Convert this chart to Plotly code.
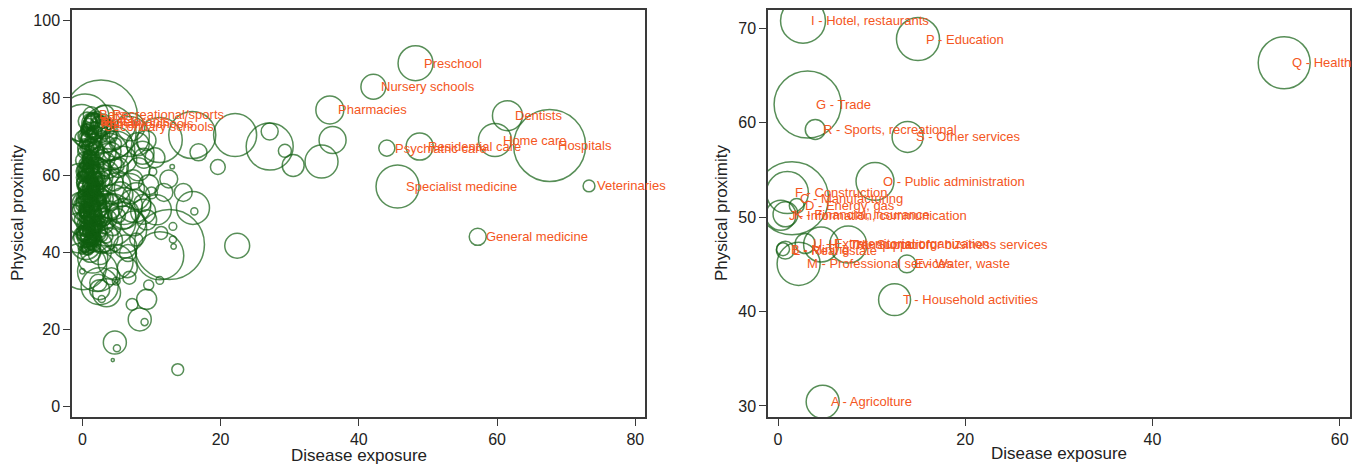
import plotly.graph_objects as go

GREEN = "rgb(16,94,16)"
ORANGE = "rgb(244,86,34)"
FONT = "Liberation Sans, Arial, sans-serif"

# ---------------- Left panel: occupations ----------------
occ_labels = ["Preschool", "Nursery schools", "Pharmacies", "Dentists", "Home care",
              "Hospitals", "Psychiatric care", "Residential care", "Specialist medicine",
              "Veterinaries", "General medicine", "Bars", "Recreational/sports",
              "Restaurants", "Hotels", "Primary schools", "Secondary schools"]
occ_x = [48.2, 42.1, 35.8, 61.5, 59.7, 67.6, 44.05, 48.8, 45.6, 73.3, 57.2,
         1.3, 3.2, 1.4, 1.8, 1.5, 1.9]
occ_y = [89.0, 82.9, 76.9, 75.4, 69.1, 67.7, 67.0, 67.4, 57.06, 57.2, 44.0,
         75.6, 75.6, 74.0, 73.8, 73.4, 72.5]
occ_w = [122, 62, 78, 90, 109, 518, 26, 73, 185, 14, 29,
         26, 40, 20, 32, 48, 58]

# other (unlabelled) occupations
oth_x = [36.2, 34.6, 30.5, 29.3, 27.1, 27.1, 22.1, 19.6, 16.8, 15.9, 11.2, 13.0, 8.9,
         22.4, 14.6, 16.0, 16.2, 12.6, 11.2, 11.2, 13.2, 13.1, 13.8, 4.7, 5.0, 4.4,
         8.3, 9.0, 9.3, 7.2, 9.6, 2.5, 3.5, 2.5, 2.3, 2.8, 4.2, 4.9, 6.8, 0.0, 0.1,
         -0.4, -0.15, 2.7, 0.4, -0.15, 3.8, 3.95, 5.9, 7.3, 8.7, 10.0, 9.3, 11.4,
         13.1, 7.8, 4.7, 6.6, 2.5, 10.7, 7.8, 7.5, 5.9, 4.9, 6.8, 8.7, 10.2]
oth_y = [69.1, 63.5, 62.5, 66.3, 67.4, 71.3, 70.4, 62.1, 65.9, 70.4, 69.1, 62.2, 64.4,
         41.7, 55.5, 51.5, 50.6, 42.0, 39.1, 32.7, 41.5, 43.3, 9.6, 16.6, 15.1, 12.05,
         22.6, 21.9, 27.8, 26.5, 31.5, 31.2, 29.5, 30.3, 32.1, 27.9, 33.8, 32.5, 33.4,
         35.1, 36.4, 45.0, 57.5, 75.2, 74.8, 73.5, 71.0, 48.4, 45.9, 58.8, 52.8, 55.4,
         48.4, 45.0, 46.7, 43.3, 40.7, 39.8, 39.8, 51.0, 54.5, 52.0, 64.0, 66.6, 70.0,
         65.8, 60.9]
oth_w = [73, 109, 48, 17, 221, 29, 185, 22, 29, 221, 202, 2, 40,
         62, 32, 109, 5, 490, 230, 6, 3, 5, 14, 53, 5, 1,
         53, 5, 40, 14, 10, 137, 78, 40, 29, 5, 29, 6, 17,
         3, 221, 160, 185, 533, 230, 137, 302, 281, 221, 40, 29, 14,
         40, 17, 6, 17, 2, 29, 53, 90, 73, 109, 73, 137, 160,
         53, 6]

mid_x = [3.5, 5.2, 6.8, 4.4, 8.1, 9.6, 5.7, 7.4, 3.0, 10.5, 6.2, 4.8, 8.8, 11.8, 5.0,
         7.0, 9.2, 3.9, 6.5, 12.5, 2.2, 1.5, 4.0, 8.0, 6.0]
mid_y = [60.5, 62.0, 56.5, 53.0, 61.5, 57.5, 49.5, 47.5, 44.0, 64.5, 41.5, 37.5, 50.5,
         55.5, 68.5, 72.5, 69.0, 66.0, 36.0, 59.0, 35.0, 38.5, 43.0, 68.0, 52.0]
mid_w = [62, 40, 90, 122, 53, 40, 78, 62, 90, 40, 53, 122, 62, 32, 90, 78, 40, 137,
         40, 32, 160, 90, 62, 53, 137]

# dense cluster of low-exposure occupations
cl_x = [0.2, 0.5, 0.8, 1.1, 0.3, 0.6, 0.9, 1.3, 0.4, 1.6, 1.9, 0.1, 1.4, 1.7, 0.7,
        1.0, 2.0, 2.2, 1.5, 0.2, 1.8, 2.4, 0.9, 1.2, 0.5, 2.1, 1.3, 0.0, 0.4, 0.8,
        1.2, 1.6, 0.3, 1.0, 2.3, 2.6, 0.6, 1.9, 1.1, 0.2, 0.7, 1.4, 1.8, 0.9, 0.5,
        1.5, 2.7, 2.9, 0.1, 1.7, 1.0, 1.3, 0.4, 2.2, 0.8, 2.5, 0.3, 1.6, 3.1, 3.3,
        0.5, 1.2, 1.8, 2.4, 0.9, 1.5, 2.8, 3.2, 0.3, 2.0, 3.6, 1.0, 2.6, 1.4, 2.1,
        3.0, 0.7, 3.8, 1.7, 4.2, 1.0, 0.5, 2.0, 4.5, 3.5, 1.2, 5.5, 4.0, 6.0, 0.5]
cl_y = [45, 47, 49, 51, 53, 55, 57, 59, 61, 46, 48, 50, 52, 54, 44,
        42, 50, 53, 56, 58, 60, 57, 62, 64, 60, 45, 43, 47, 49, 52,
        54, 50, 56, 59, 48, 51, 46, 56, 47, 52, 50, 48, 52, 54, 58,
        61, 54, 49, 55, 44, 45, 57, 63, 59, 41, 46, 44, 63, 52, 47,
        67, 69, 71, 73, 72, 74, 70, 72, 70, 67, 68, 65, 65, 71, 75,
        74, 74, 73, 66, 70, 52, 50, 61, 57, 63, 40, 55, 52, 50, 42]
cl_w = [20, 32, 10, 48, 14, 26, 40, 14, 32, 20, 10, 58, 14, 32, 40,
        26, 14, 26, 10, 20, 40, 14, 10, 26, 14, 32, 10, 6, 14, 6,
        20, 6, 10, 6, 10, 20, 6, 26, 14, 40, 20, 26, 10, 14, 32,
        20, 10, 32, 10, 14, 6, 32, 14, 20, 14, 26, 48, 10, 14, 26,
        26, 40, 20, 32, 14, 26, 14, 40, 10, 20, 26, 14, 32, 10, 14,
        20, 32, 10, 40, 14, 122, 202, 78, 122, 90, 40, 62, 62, 90, 90]

cl2_x = [0.1, 0.6, 1.1, 1.6, 2.1, 0.3, 0.8, 1.3, 1.8, 2.3, 0.2, 0.7, 1.2, 1.7, 2.2, 0.4, 0.9, 1.4, 1.9, 2.4,
         0.0, 0.5, 1.0, 1.5, 2.0, 0.3, 0.8, 1.3, 1.8, 0.1, 0.6, 1.1, 1.6, 2.1, 0.4, 0.9, 1.4, 0.2, 0.7, 1.2,
         1.7, 0.5, 1.0, 1.5, 0.3, 0.8, 1.3, 0.6, 1.1, 0.4, 0.2, 0.9, 1.6, 2.2, 0.7, 1.4, 0.1, 1.0, 1.9, 0.5,
         1.2, 0.8, 0.3, 1.7, 2.0, 0.6, 1.3, 0.9, 0.2, 1.5, 1.1, 0.4, 0.7, 1.8, 1.0, 0.3, 1.4, 0.8, 0.5, 1.2]
cl2_y = [41.5, 42.3, 43.1, 42.8, 44.0, 44.6, 45.2, 45.9, 46.5, 47.1, 47.8, 48.4, 49.0, 49.6, 50.3, 50.9, 51.5, 52.2, 52.8, 53.4,
         54.0, 54.7, 55.3, 55.9, 56.5, 57.2, 57.8, 58.4, 59.0, 59.7, 60.3, 60.9, 61.5, 62.2, 62.8, 63.4, 64.0, 43.7, 46.0, 48.7,
         51.1, 53.6, 56.1, 58.6, 61.1, 63.6, 42.0, 44.9, 47.4, 49.9, 52.4, 54.9, 57.4, 59.9, 62.4, 64.9, 45.5, 50.6, 55.6, 60.6,
         43.3, 48.1, 53.1, 58.1, 46.8, 51.8, 56.8, 61.8, 66.0, 67.5, 68.8, 70.2, 71.6, 72.9, 69.5, 68.1, 66.7, 65.4, 72.0, 73.5]
cl2_w = [10, 6, 14, 10, 6, 20, 10, 6, 14, 10, 6, 14, 20, 10, 6, 14, 10, 26, 6, 10,
         14, 6, 10, 20, 6, 14, 10, 6, 26, 10, 14, 6, 10, 20, 6, 10, 14, 6, 26, 10,
         14, 20, 6, 10, 14, 6, 10, 20, 14, 6, 26, 10, 14, 6, 20, 10, 6, 14, 10, 20,
         14, 6, 26, 10, 14, 6, 20, 10, 14, 6, 10, 20, 14, 6, 26, 10, 14, 6, 10, 20]

cl3_x = [0.0, 0.4, 0.8, 1.2, 1.6, 2.0, 2.4, 2.8, 0.2, 0.6, 1.0, 1.4, 1.8, 2.2, 2.6, 3.0, 0.1, 0.5, 0.9, 1.3,
         1.7, 2.1, 2.5, 2.9, 0.3, 0.7, 1.1, 1.5, 1.9, 2.3, 2.7, 0.0, 0.4, 0.8, 1.2, 1.6, 2.0, 2.4, 0.2, 0.6,
         1.0, 1.4, 1.8, 2.2, 0.1, 0.5, 0.9, 1.3, 1.7, 2.1, 0.3, 0.7, 1.1, 1.5, 1.9, 0.0, 0.4, 0.8, 1.2, 1.6,
         2.0, 0.2, 0.6, 1.0, 1.4, 1.8, 0.1, 0.5, 0.9, 1.3, 1.7, 0.3, 0.7, 1.1, 1.5, 0.0, 0.4, 0.8, 1.2, 0.6,
         3.4, 3.7, 4.1, 2.9, 3.2, 3.6, 4.4, 3.9, 2.6, 3.1, 3.5, 4.8, 5.2, 2.8, 3.3, 4.6, 5.0, 3.8, 4.3, 2.7]
cl3_y = [40.5, 41.2, 40.8, 41.6, 42.1, 42.9, 43.5, 44.3, 44.8, 45.4, 46.1, 46.7, 47.3, 48.0, 48.6, 49.2, 49.9, 50.5, 51.1, 51.8,
         52.4, 53.0, 53.7, 54.3, 54.9, 55.6, 56.2, 56.8, 57.5, 58.1, 58.7, 59.4, 60.0, 60.6, 61.3, 61.9, 62.5, 63.2, 63.8, 64.4,
         41.9, 43.9, 45.8, 47.7, 49.6, 51.6, 53.5, 55.4, 57.3, 59.3, 61.2, 63.1, 42.6, 44.5, 46.4, 48.4, 50.3, 52.2, 54.1, 56.1,
         58.0, 59.9, 61.8, 63.8, 65.7, 67.6, 69.5, 71.5, 73.4, 70.8, 68.9, 66.9, 65.0, 67.3, 71.2, 57.0, 47.0, 44.0, 59.0, 53.0,
         44.2, 48.6, 52.9, 57.3, 61.6, 65.9, 46.4, 50.7, 55.1, 59.4, 63.8, 68.1, 49.5, 42.3, 53.8, 58.2, 62.4, 70.6, 66.1, 72.7]
cl3_w = [6, 10, 14, 6, 20, 10, 4, 14, 26, 6, 10, 14, 20, 6, 10, 32, 6, 14, 10, 20,
         10, 6, 14, 26, 10, 6, 20, 14, 6, 10, 32, 14, 6, 10, 20, 14, 6, 10, 26, 6,
         14, 10, 6, 20, 14, 10, 26, 6, 14, 10, 20, 6, 14, 10, 6, 26, 14, 10, 20, 6,
         10, 14, 6, 20, 10, 14, 26, 6, 10, 14, 20, 6, 10, 26, 14, 10, 6, 20, 14, 10,
         20, 32, 26, 40, 20, 32, 26, 40, 20, 32, 26, 14, 20, 40, 26, 32, 20, 26, 32, 40]

# ---------------- Right panel: sectors ----------------
sec_labels = ["A - Agricolture", "B - Mining", "C - Manufacturing", "D - Energy, gas",
              "E - Water, waste", "F - Construction", "G - Trade", "H - Transportation",
              "I - Hotel, restaurants", "J - Information, communication",
              "K - Financial, insurance", "L - Real estate", "M - Professional services",
              "N - Support for business services", "O - Public administration",
              "P - Education", "Q - Health", "R - Sports, recreational",
              "S - Other services", "T - Household activities",
              "U - Extraterritorial organization"]
sec_x = [4.77, 0.53, 1.5, 2.0, 13.77, 1.0, 3.16, 4.6, 2.67, 0.3, 0.8, 0.78, 2.2,
         7.5, 10.36, 14.95, 54.07, 3.98, 13.84, 12.45, 2.9]
sec_y = [30.44, 46.6, 52.0, 51.2, 45.05, 52.6, 61.93, 47.1, 70.81, 50.2, 50.3, 46.5,
         45.05, 47.1, 53.79, 68.86, 66.35, 59.28, 58.5, 41.26, 47.2]
sec_w = [109, 17, 533, 22, 32, 176, 449, 122, 202, 90, 62, 32, 185,
         137, 144, 185, 270, 40, 96, 102, 40]

SIZEREF = 0.2

fig = go.Figure()


def bubbles(x, y, w, xa, ya, lw=1.5):
    return go.Scatter(
        x=x, y=y, mode="markers", xaxis=xa, yaxis=ya, showlegend=False,
        hoverinfo="skip",
        marker=dict(size=w, sizemode="area", sizeref=SIZEREF, symbol="circle-open",
                    color=GREEN, line=dict(width=lw, color=GREEN)))


fig.add_trace(bubbles(cl_x, cl_y, cl_w, "x", "y", 1.7))
fig.add_trace(bubbles(cl2_x, cl2_y, cl2_w, "x", "y", 1.7))
fig.add_trace(bubbles(cl3_x, cl3_y, cl3_w, "x", "y", 1.7))
fig.add_trace(bubbles(mid_x, mid_y, mid_w, "x", "y"))
fig.add_trace(bubbles(oth_x, oth_y, oth_w, "x", "y"))
fig.add_trace(bubbles(occ_x, occ_y, occ_w, "x", "y"))
fig.add_trace(bubbles(sec_x, sec_y, sec_w, "x2", "y2"))

annotations = []
for lab, x, y in zip(occ_labels, occ_x, occ_y):
    annotations.append(dict(x=x, y=y, xref="x", yref="y", text=lab, showarrow=False,
                            xanchor="left", yanchor="middle", xshift=6,
                            font=dict(family=FONT, size=13, color=ORANGE)))
for lab, x, y in zip(sec_labels, sec_x, sec_y):
    annotations.append(dict(x=x, y=y, xref="x2", yref="y2", text=lab, showarrow=False,
                            xanchor="left", yanchor="middle", xshift=6,
                            font=dict(family=FONT, size=13, color=ORANGE)))

W, H = 1362, 465
TITLE_FONT = dict(family=FONT, size=17, color="#222")
# axis titles
annotations += [
    dict(x=(72 + 645) / 2 / W, y=1 - 455 / H, xref="paper", yref="paper", showarrow=False,
         text="Disease exposure", font=TITLE_FONT, xanchor="center", yanchor="middle"),
    dict(x=(768 + 1350) / 2 / W, y=1 - 453 / H, xref="paper", yref="paper", showarrow=False,
         text="Disease exposure", font=TITLE_FONT, xanchor="center", yanchor="middle"),
    dict(x=18 / W, y=1 - 213 / H, xref="paper", yref="paper", showarrow=False, textangle=-90,
         text="Physical proximity", font=TITLE_FONT, xanchor="center", yanchor="middle"),
    dict(x=722 / W, y=1 - 213 / H, xref="paper", yref="paper", showarrow=False, textangle=-90,
         text="Physical proximity", font=TITLE_FONT, xanchor="center", yanchor="middle"),
]

axis_common = dict(showgrid=False, zeroline=False, showline=True, mirror=True,
                   linecolor="#3a3a3a", linewidth=1.5, ticks="outside", ticklen=7,
                   tickwidth=1.2, tickcolor="#3a3a3a",
                   tickfont=dict(family=FONT, size=16, color="#222"))

fig.update_layout(
    width=W, height=H, margin=dict(l=0, r=0, t=0, b=0),
    paper_bgcolor="white", plot_bgcolor="white",
    annotations=annotations,
    xaxis=dict(domain=[72 / W, 645 / W], range=[-1.5, 81.4], tickvals=[0, 20, 40, 60, 80],
               anchor="y", **axis_common),
    yaxis=dict(domain=[1 - 417 / H, 1 - 10 / H], range=[-2.7, 102.8],
               tickvals=[0, 20, 40, 60, 80, 100], anchor="x", **axis_common),
    xaxis2=dict(domain=[768 / W, 1350 / W], range=[-1.07, 61.1], tickvals=[0, 20, 40, 60],
                anchor="y2", **axis_common),
    yaxis2=dict(domain=[1 - 417 / H, 1 - 10 / H], range=[28.83, 71.94],
                tickvals=[30, 40, 50, 60, 70], anchor="x2", **axis_common),
)

fig.write_html("out.html", config={"displayModeBar": False},
               post_script="document.body.style.margin='0';document.body.style.overflow='hidden';")
